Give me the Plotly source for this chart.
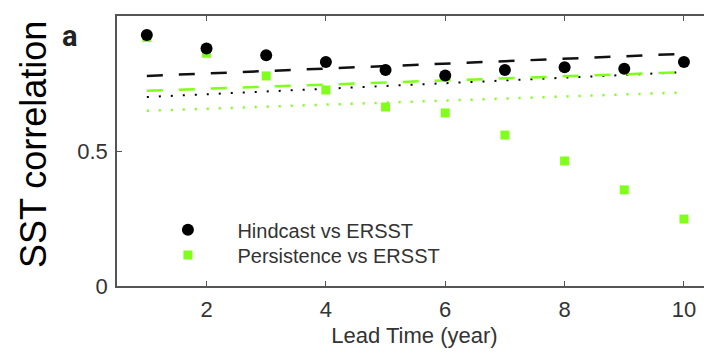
import plotly.graph_objects as go

lead_time = [1, 2, 3, 4, 5, 6, 7, 8, 9, 10]
hindcast = [0.93, 0.88, 0.855, 0.83, 0.80, 0.78, 0.80, 0.81, 0.805, 0.83]
persistence = [0.92, 0.862, 0.778, 0.726, 0.663, 0.641, 0.559, 0.463, 0.356, 0.248]

trend_x = [1, 10]
hindcast_trend_a = [0.778, 0.860]   # black dashed
hindcast_trend_b = [0.700, 0.792]   # black dotted
persist_trend_a = [0.723, 0.792]    # green dashed
persist_trend_b = [0.649, 0.717]    # green dotted

x_ticks = [2, 4, 6, 8, 10]
y_ticks = [0, 0.5, 1]
y_tick_text = ["0", "0.5", "1"]

GREEN = "#80ff1a"
FONT = "Liberation Sans"

fig = go.Figure()
fig.add_trace(go.Scatter(x=trend_x, y=persist_trend_b, mode="lines", showlegend=False,
                         line=dict(color=GREEN, width=2.5, dash="2px,10px")))
fig.add_trace(go.Scatter(x=trend_x, y=hindcast_trend_b, mode="lines", showlegend=False,
                         line=dict(color="black", width=2.0, dash="2px,10px")))
fig.add_trace(go.Scatter(x=trend_x, y=persist_trend_a, mode="lines", showlegend=False,
                         line=dict(color=GREEN, width=2.5, dash="16px,16px")))
fig.add_trace(go.Scatter(x=trend_x, y=hindcast_trend_a, mode="lines", showlegend=False,
                         line=dict(color="#111", width=2.5, dash="16px,16px")))
fig.add_trace(go.Scatter(x=lead_time, y=persistence, mode="markers", name="Persistence vs ERSST",
                         legend="legend2",
                         marker=dict(symbol="square", size=9, color=GREEN, line=dict(width=0))))
fig.add_trace(go.Scatter(x=lead_time, y=hindcast, mode="markers", name="Hindcast vs ERSST",
                         legend="legend",
                         marker=dict(symbol="circle", size=12, color="black", line=dict(width=0))))

legend_style = dict(xanchor="left", yanchor="middle", bgcolor="rgba(0,0,0,0)",
                    font=dict(size=20, color="#333", family=FONT), itemwidth=89)

fig.update_layout(
    width=704, height=346,
    margin=dict(l=109, r=0, t=8, b=68, autoexpand=False),
    paper_bgcolor="white", plot_bgcolor="white",
    font=dict(family=FONT, color="#333"),
    showlegend=True,
    legend=dict(x=0.036, y=0.208, **legend_style),
    legend2=dict(x=0.036, y=0.115, **legend_style),
    xaxis=dict(range=[0.5, 10.47], tickvals=x_ticks, ticks="inside", ticklen=5,
               tickcolor="#555", showline=True, linecolor="#555", linewidth=1.5,
               mirror="ticks", showgrid=False, zeroline=False, automargin=False,
               tickfont=dict(size=22, color="#333"), ticklabelstandoff=3,
               title=dict(text="Lead Time (year)", font=dict(size=22, color="#333"), standoff=6)),
    yaxis=dict(range=[0, 1], tickvals=y_ticks, ticktext=y_tick_text, ticks="inside", ticklen=5,
               tickcolor="#555", showline=True, linecolor="#555", linewidth=1.5,
               mirror=False, showgrid=False, zeroline=False, automargin=False,
               tickfont=dict(size=22, color="#333"), ticklabelstandoff=3),
    annotations=[
        dict(text="SST correlation", xref="paper", yref="paper", x=0, y=0.522,
             xanchor="center", yanchor="middle", xshift=-84, textangle=-90,
             showarrow=False, font=dict(size=36, color="black", family=FONT)),
        dict(text="a", xref="paper", yref="paper", x=0, y=0.925,
             xanchor="center", yanchor="middle", xshift=-47,
             showarrow=False, font=dict(size=29, color="#222", family="Roboto", weight=700)),
    ],
)

fig.write_html("out.html")
